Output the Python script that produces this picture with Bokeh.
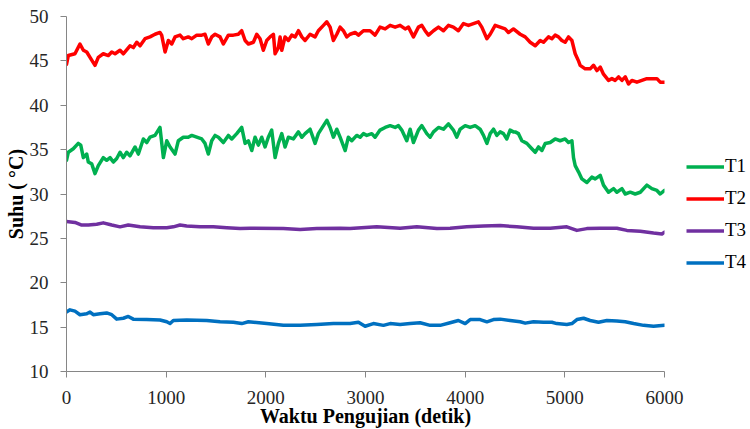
from bokeh.plotting import figure
from bokeh.layouts import row
from bokeh.models import FixedTicker, Range1d, Legend, LegendItem
from bokeh.embed import file_html
from bokeh.resources import INLINE

# Temperature readings (°C) against test time (seconds)
t1_time = [0, 18, 68, 118, 143, 169, 203, 219, 253, 286, 319, 369, 403, 437, 470, 504, 537, 570, 604, 637,
           688, 721, 771, 805, 838, 888, 938, 972, 1006, 1039, 1089, 1122, 1172, 1222, 1257, 1307, 1357, 1390,
           1423, 1457, 1491, 1524, 1574, 1624, 1658, 1708, 1758, 1792, 1825, 1859, 1892, 1925, 1959, 1992,
           2025, 2059, 2093, 2126, 2160, 2193, 2226, 2276, 2327, 2361, 2394, 2444, 2494, 2527, 2578, 2612,
           2645, 2678, 2712, 2745, 2796, 2828, 2862, 2912, 2946, 2979, 3013, 3063, 3096, 3146, 3197, 3247,
           3297, 3330, 3364, 3414, 3448, 3481, 3531, 3565, 3615, 3649, 3682, 3732, 3782, 3832, 3882, 3916,
           3949, 4000, 4050, 4100, 4150, 4184, 4218, 4251, 4284, 4318, 4351, 4384, 4418, 4451, 4484, 4502,
           4535, 4569, 4619, 4669, 4703, 4736, 4770, 4803, 4853, 4903, 4953, 5003, 5037, 5071, 5087, 5104,
           5137, 5171, 5221, 5271, 5305, 5355, 5388, 5438, 5489, 5522, 5573, 5606, 5656, 5706, 5757, 5823,
           5873, 5924, 5957, 6000]
t1_temp = [33.8, 34.7, 35.1, 35.7, 35.5, 34.1, 34.5, 33.6, 33.4, 32.3, 33.2, 34.1, 33.8, 34.1, 33.6, 34.0,
           34.7, 34.1, 34.7, 34.3, 35.3, 34.5, 36.2, 35.8, 36.4, 36.6, 37.5, 34.1, 36.0, 35.3, 34.5, 36.0,
           36.4, 36.4, 36.6, 36.4, 36.2, 35.7, 34.5, 36.0, 36.6, 36.4, 35.8, 36.6, 36.2, 36.8, 37.5, 35.7,
           36.0, 34.9, 36.4, 35.5, 36.4, 35.3, 36.4, 37.2, 34.1, 35.7, 36.8, 35.3, 36.4, 36.2, 37.0, 36.4,
           36.8, 37.3, 35.7, 36.8, 37.7, 38.3, 37.5, 36.4, 37.3, 36.4, 34.9, 36.4, 36.0, 36.6, 36.4, 36.8,
           36.6, 36.8, 36.4, 37.2, 37.5, 37.7, 37.5, 37.7, 37.2, 36.0, 37.3, 35.8, 37.2, 37.7, 36.8, 36.4,
           37.0, 37.5, 37.3, 37.9, 37.2, 36.4, 37.3, 37.7, 37.5, 37.7, 37.3, 36.6, 35.7, 36.8, 37.3, 36.6,
           37.0, 36.8, 36.2, 37.2, 37.0, 37.0, 36.8, 36.0, 35.7, 35.1, 34.7, 35.3, 34.9, 35.7, 35.8, 36.2,
           36.0, 36.2, 35.8, 36.0, 34.1, 33.2, 32.5, 31.7, 31.3, 31.9, 31.7, 32.1, 31.0, 30.2, 30.6, 30.2,
           30.6, 30.0, 30.2, 30.0, 30.2, 31.0, 30.6, 30.4, 30.0, 30.4]

t2_time = [0, 18, 85, 135, 169, 203, 236, 286, 319, 369, 420, 454, 487, 537, 570, 637, 671, 705, 738, 788,
           838, 888, 938, 955, 989, 1022, 1056, 1089, 1139, 1172, 1222, 1257, 1307, 1357, 1390, 1423, 1457,
           1491, 1541, 1574, 1624, 1674, 1724, 1758, 1792, 1825, 1875, 1909, 1942, 1975, 2009, 2043, 2076,
           2093, 2126, 2143, 2160, 2193, 2226, 2260, 2294, 2327, 2361, 2394, 2444, 2494, 2527, 2578, 2612,
           2645, 2678, 2712, 2745, 2778, 2812, 2845, 2896, 2929, 2979, 3046, 3096, 3146, 3197, 3247, 3297,
           3347, 3398, 3431, 3481, 3531, 3565, 3598, 3632, 3682, 3732, 3782, 3832, 3882, 3932, 3983, 4033,
           4083, 4133, 4167, 4218, 4251, 4301, 4351, 4401, 4434, 4484, 4552, 4602, 4652, 4703, 4753, 4786,
           4836, 4870, 4903, 4936, 4970, 5003, 5037, 5071, 5104, 5137, 5154, 5204, 5254, 5288, 5322, 5355,
           5388, 5438, 5472, 5505, 5539, 5573, 5606, 5639, 5673, 5723, 5773, 5823, 5873, 5924, 5957, 6000]
t2_temp = [44.6, 45.6, 45.8, 46.9, 46.2, 46.0, 45.4, 44.5, 45.4, 45.8, 45.6, 46.0, 45.8, 46.2, 45.8, 46.7,
           46.5, 47.1, 46.7, 47.5, 47.7, 48.0, 48.2, 47.9, 46.0, 47.3, 46.9, 47.7, 47.9, 47.5, 47.7, 47.5,
           47.9, 47.9, 48.0, 46.9, 47.7, 48.0, 47.7, 46.9, 47.9, 47.9, 48.0, 48.4, 47.3, 46.9, 47.1, 48.0,
           47.5, 46.2, 47.3, 47.7, 48.0, 45.8, 46.5, 47.7, 46.2, 47.7, 47.3, 47.9, 47.7, 48.4, 47.7, 47.3,
           48.0, 47.7, 48.4, 49.0, 49.4, 48.8, 47.3, 48.0, 48.8, 48.4, 47.7, 48.0, 48.2, 47.9, 48.4, 48.4,
           47.9, 48.8, 48.6, 49.0, 48.8, 49.0, 48.6, 48.8, 47.7, 48.8, 49.0, 48.4, 47.9, 48.4, 48.8, 48.4,
           49.0, 48.8, 48.4, 49.2, 49.0, 49.2, 49.4, 48.8, 47.5, 48.0, 49.0, 48.8, 48.6, 48.2, 48.6, 48.0,
           47.7, 47.1, 46.7, 47.3, 47.1, 47.7, 47.5, 47.9, 47.7, 47.3, 47.1, 47.7, 47.3, 45.8, 45.0, 44.5,
           44.1, 44.1, 44.5, 43.9, 44.3, 43.5, 42.8, 43.0, 42.8, 43.2, 42.8, 43.2, 42.4, 42.8, 42.6, 42.8,
           43.0, 43.0, 43.0, 42.6, 42.6]

t3_time = [0, 85, 153, 219, 303, 369, 454, 537, 620, 738, 871, 1006, 1072, 1139, 1206, 1340, 1473, 1608,
           1741, 1842, 2176, 2344, 2511, 2745, 2845, 3113, 3347, 3515, 3716, 3849, 4017, 4184, 4351, 4518,
           4686, 4853, 5020, 5121, 5221, 5355, 5522, 5623, 5757, 5890, 5974, 6000]
t3_temp = [26.9, 26.8, 26.5, 26.5, 26.6, 26.75, 26.5, 26.3, 26.5, 26.3, 26.2, 26.2, 26.3, 26.5, 26.4,
           26.3, 26.3, 26.2, 26.1, 26.15, 26.1, 26.0, 26.1, 26.15, 26.1, 26.3, 26.15, 26.3, 26.1, 26.15,
           26.3, 26.4, 26.45, 26.3, 26.15, 26.15, 26.3, 25.9, 26.1, 26.15, 26.15, 25.9, 25.8, 25.6, 25.5,
           25.7]

t4_time = [0, 35, 85, 135, 203, 236, 269, 336, 403, 454, 504, 570, 620, 670, 805, 938, 1006, 1039, 1072,
           1206, 1407, 1541, 1674, 1758, 1825, 2009, 2176, 2344, 2511, 2678, 2845, 2929, 2996, 3079, 3180,
           3247, 3347, 3448, 3548, 3649, 3749, 3849, 3932, 4000, 4050, 4150, 4218, 4284, 4351, 4451, 4552,
           4602, 4686, 4786, 4870, 4920, 5020, 5071, 5121, 5188, 5254, 5338, 5422, 5522, 5606, 5690, 5790,
           5890, 6000]
t4_temp = [16.7, 16.95, 16.8, 16.4, 16.5, 16.7, 16.4, 16.5, 16.6, 16.4, 15.9, 16.0, 16.2, 15.9, 15.85,
           15.8, 15.6, 15.4, 15.75, 15.8, 15.75, 15.6, 15.55, 15.4, 15.6, 15.4, 15.2, 15.2, 15.3, 15.4,
           15.4, 15.55, 15.1, 15.4, 15.2, 15.4, 15.3, 15.4, 15.5, 15.2, 15.2, 15.5, 15.75, 15.4, 15.85,
           15.85, 15.6, 15.85, 15.9, 15.75, 15.6, 15.45, 15.6, 15.55, 15.55, 15.4, 15.3, 15.4, 15.85, 16.0,
           15.75, 15.55, 15.75, 15.7, 15.6, 15.4, 15.2, 15.1, 15.2]

series_names = ["T1", "T2", "T3", "T4"]
series_colors = ["#00B050", "#FF0000", "#7030A0", "#0070C0"]
x_ticks = [0, 1000, 2000, 3000, 4000, 5000, 6000]
y_ticks = [10, 15, 20, 25, 30, 35, 40, 45, 50]

SERIF = "Liberation Serif"
AXIS_GREY = "#868686"
LINE_W = 3.5

# Main chart
p = figure(width=686, height=429, output_backend="svg", toolbar_location=None,
           x_range=Range1d(0, 6000), y_range=Range1d(10, 50),
           min_border_left=66, min_border_right=22, min_border_top=16, min_border_bottom=58)
p.outline_line_color = None
p.xgrid.visible = False
p.ygrid.visible = False
p.background_fill_color = "white"
p.border_fill_color = "white"

data = list(zip(series_names,
                [t1_time, t2_time, t3_time, t4_time],
                [t1_temp, t2_temp, t3_temp, t4_temp],
                series_colors))
# T4 drawn first so the hotter traces sit on top
for name, tx, ty, col in reversed(data):
    p.line(tx, ty, line_color=col, line_width=LINE_W, line_join="round", line_cap="round")

for ax in (p.xaxis[0], p.yaxis[0]):
    ax.axis_line_color = AXIS_GREY
    ax.major_tick_line_color = AXIS_GREY
    ax.minor_tick_line_color = None
    ax.major_tick_in = 0
    ax.major_tick_out = 6
    ax.major_label_text_font = SERIF
    ax.major_label_text_font_size = "19px"
    ax.major_label_text_color = "#262626"
    ax.axis_label_text_font = SERIF
    ax.axis_label_text_font_style = "bold"
    ax.axis_label_text_font_size = "20px"
    ax.axis_label_text_color = "#000000"

p.xaxis[0].ticker = FixedTicker(ticks=x_ticks)
p.yaxis[0].ticker = FixedTicker(ticks=y_ticks)
p.xaxis[0].axis_label = "Waktu Pengujian (detik)"
p.yaxis[0].axis_label = "Suhu ( °C)"
p.xaxis[0].major_label_standoff = 13
p.xaxis[0].axis_label_standoff = -2
p.yaxis[0].major_label_standoff = 12
p.yaxis[0].axis_label_standoff = 0

# Legend column to the right of the chart. The key renderers carry the same
# series but stay hidden; the legend only borrows their line styles.
key = figure(width=64, height=429, output_backend="svg", toolbar_location=None,
             x_axis_location=None, y_axis_location=None,
             min_border=0, min_border_left=0, min_border_right=0,
             min_border_top=0, min_border_bottom=0)
key.outline_line_color = None
key.xgrid.visible = False
key.ygrid.visible = False
key.background_fill_color = "white"
key.border_fill_color = "white"

items = []
for name, tx, ty, col in data:
    r = key.line(tx, ty, line_color=col, line_width=LINE_W, visible=False)
    items.append(LegendItem(label=name, renderers=[r]))

legend = Legend(items=items, location=(0, 98), orientation="vertical",
                glyph_width=38, glyph_height=21, label_height=21, label_standoff=1,
                spacing=10, padding=0, margin=0,
                border_line_alpha=0, background_fill_alpha=0,
                inactive_fill_alpha=0,
                label_text_font=SERIF, label_text_font_size="19px",
                label_text_color="#000000")
key.add_layout(legend, "center")

layout = row(p, key, spacing=0)
open("out.html", "w").write(file_html(layout, INLINE))
